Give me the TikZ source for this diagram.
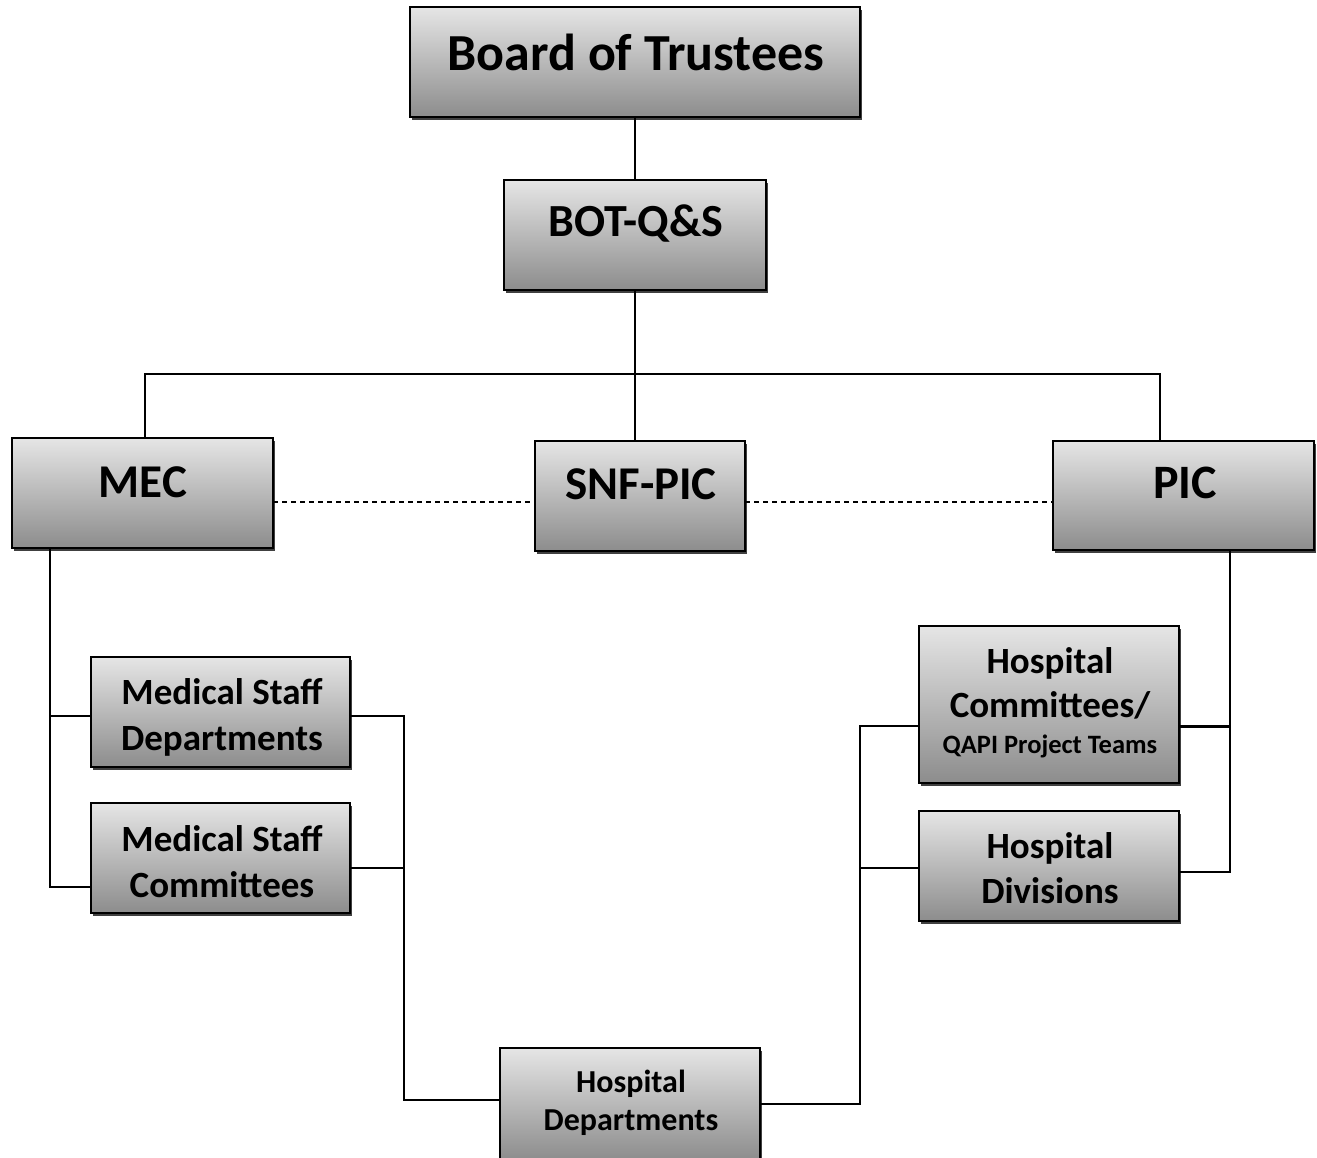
\documentclass[tikz,border=0pt]{standalone}
\usepackage{fontspec}
\setmainfont{Carlito}
\usetikzlibrary{shadows,calc}
\tikzset{
  box/.style={draw=black, line width=2.2pt, top color=black!10, bottom color=black!45,
    drop shadow={shadow xshift=2pt, shadow yshift=-3pt, fill=black!75, opacity=1},
    inner sep=0pt, outer sep=0pt},
  txt/.style={font=\bfseries, align=center, inner sep=0pt, text=black},
  conn/.style={line width=2.6pt, black},
  dashline/.style={line width=1.6pt, black, dash pattern=on 5pt off 4pt},
}
\newcommand{\fs}[2]{\fontsize{#1}{#2}\selectfont}
\begin{document}
\begin{tikzpicture}[x=1pt, y=-1pt]
\useasboundingbox (0,0) rectangle (1317,1157);
\fill[white] (0,0) rectangle (1317,1157);
% boxes
\node[box, minimum width=450pt, minimum height=110pt] (board) at (635,62) {};
\node[box, minimum width=262pt, minimum height=110pt] (botqs) at (635,235) {};
\node[box, minimum width=261pt, minimum height=110pt] (mec) at (142.5,493) {};
\node[box, minimum width=210pt, minimum height=110pt] (snf) at (640,496) {};
\node[box, minimum width=261pt, minimum height=109pt] (pic) at (1183.5,495.5) {};
\node[box, minimum width=259pt, minimum height=110pt] (msd) at (220.5,712) {};
\node[box, minimum width=259pt, minimum height=110pt] (msc) at (220.5,858) {};
\node[box, minimum width=260pt, minimum height=157pt] (hc) at (1049,704.5) {};
\node[box, minimum width=260pt, minimum height=110pt] (hd) at (1049,866) {};
\node[box, minimum width=260pt, minimum height=112pt] (hdept) at (630,1104) {};
% texts
\node[txt, font=\bfseries\fs{52}{62}] (board-t) at (636,52) {Board of Trustees};
\node[txt, font=\bfseries\fs{46}{55}] (botqs-t) at (636,224) {BOT-Q\&S};
\node[txt, font=\bfseries\fs{47}{56}] (mec-t) at (143,482) {MEC};
\node[txt, font=\bfseries\fs{47}{56}] (snf-t) at (641,484) {SNF-PIC};
\node[txt, font=\bfseries\fs{48}{56}] (pic-t) at (1185,483) {PIC};
\node[txt, font=\bfseries\fs{37}{46}] (msd-t) at (222,717) {Medical Staff\\Departments};
\node[txt, font=\bfseries\fs{37}{46}] (msc-t) at (222,862) {Medical Staff\\Committees};
\node[txt, font=\bfseries\fs{37}{44}] (hc-t) at (1050,683) {Hospital\\Committees/};
\node[txt, font=\bfseries\fs{26.5}{30}] (hc-t2) at (1050,746) {QAPI Project Teams};
\node[txt, font=\bfseries\fs{37}{45}] (hd-t) at (1050,868) {Hospital\\Divisions};
\node[txt, font=\bfseries\fs{32}{38}] (hdept-t) at (631,1103) {Hospital\\Departments};
% connectors
\draw[conn] (board) -- (botqs);
\coordinate (hub) at (636,374);
\draw[conn] (botqs.south) -- (botqs.south |- snf.north);
\draw[conn] ([xshift=2.5pt]mec.north) |- (hub) -| ([xshift=-23.5pt]pic.north);
\coordinate (dl) at (0,502);
\draw[dashline] (mec.east |- dl) -- (snf.west |- dl);
\draw[dashline] (snf.east |- dl) -- (pic.west |- dl);
% left tree
\draw[conn] ([xshift=-92.5pt]mec.south) |- ([yshift=-29pt]msc.west);
\draw[conn] ([xshift=-92.5pt,yshift=-4pt]msd.west -| mec.south) -- ([yshift=-4pt]msd.west);
\draw[conn] ([yshift=-4pt]msd.east) -- ++(54,0) |- ([yshift=4pt]hdept.west);
\draw[conn] ([yshift=-10pt]msc.east) -- ++(54,0);
% right tree
\draw[conn] (hdept.east) -- ++(100,0) |- ([yshift=-21.5pt]hc.west);
\draw[conn] ([yshift=-2pt]hd.west) -- ++(-59,0);
\draw[conn] ([xshift=46.5pt]pic.south) |- ([yshift=-6pt]hd.east);
\draw[conn] ([yshift=-22pt]hc.east) -- ++(51,0);
\end{tikzpicture}
\end{document}
